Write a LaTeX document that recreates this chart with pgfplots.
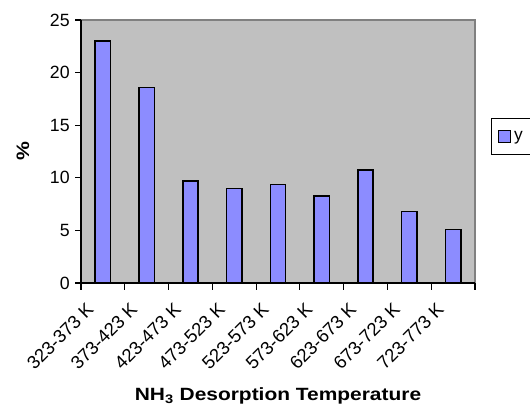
\documentclass[border=0pt]{standalone}
\usepackage{fontspec}
\setmainfont{Liberation Sans}
\newfontfamily\labelfont[FakeStretch=1.18]{Liberation Sans}
\usepackage{pgfplots}
\pgfplotsset{compat=1.18}
\definecolor{barfill}{RGB}{140,140,255}
\definecolor{plotbg}{RGB}{192,192,192}
\definecolor{bordergray}{RGB}{128,128,128}
\begin{document}
\begin{tikzpicture}
\clip (-60.75pt,-93pt) rectangle (336.75pt,212.25pt);
\begin{axis}[
  at={(0,0)}, anchor=south west,
  scale only axis, width=295.5pt, height=197.25pt,
  xmin=0.5, xmax=9.5, ymin=0, ymax=25,
  axis background/.style={fill=plotbg, draw=bordergray, line width=0.8pt},
  axis x line*=bottom, axis y line*=left,
  axis line style={-, black, line width=0.9pt},
  ytick={0,5,...,25},
  xtick={1,...,9},
  xticklabels={323-373 K,373-423 K,423-473 K,473-523 K,523-573 K,573-623 K,623-673 K,673-723 K,723-773 K},
  minor xtick={0.5,1.5,...,9.5},
  major x tick style={draw=none},
  tick align=outside,
  major tick length=4.5pt,
  minor tick length=5pt,
  tick style={black, line width=0.9pt},
  /pgf/number format/assume math mode=true,
  yticklabel style={font=\fontsize{13.3}{15}\selectfont, xshift=-0.5pt},
  xticklabel style={font=\fontsize{13.8}{15}\selectfont, xshift=-13pt, yshift=-8.5pt, rotate=45, anchor=north east, inner sep=0.5pt},
  every axis y label/.style={at={(axis description cs:0,0.5)}, xshift=-43.5pt, rotate=90, anchor=center},
  every axis x label/.style={at={(axis description cs:0.5,0)}, xshift=0pt, yshift=-85pt, anchor=center},
  xlabel={\labelfont\fontsize{13.3}{15}\selectfont\bfseries NH\textsubscript{3} Desorption Temperature},
  ylabel={\labelfont\fontsize{13.5}{15}\selectfont\bfseries \%},
  legend style={at={(axis description cs:1.0406,0.557)}, anchor=west, draw=black, line width=0.8pt, font=\fontsize{13}{15}\selectfont, inner xsep=5pt, inner ysep=7pt},
  legend image code/.code={\draw[#1, line width=0.9pt] (0pt,-4.5pt) rectangle (9pt,4.5pt);},
  clip=false,
]
\addplot[ybar, bar width=11.5pt, fill=barfill, draw=black, line width=1.2pt]
  coordinates {(1,23.0) (2,18.6) (3,9.7) (4,9.0) (5,9.35) (6,8.25) (7,10.75) (8,6.8) (9,5.1)};
\addlegendentry{y\hspace*{30pt}}
\end{axis}
\end{tikzpicture}
\end{document}
